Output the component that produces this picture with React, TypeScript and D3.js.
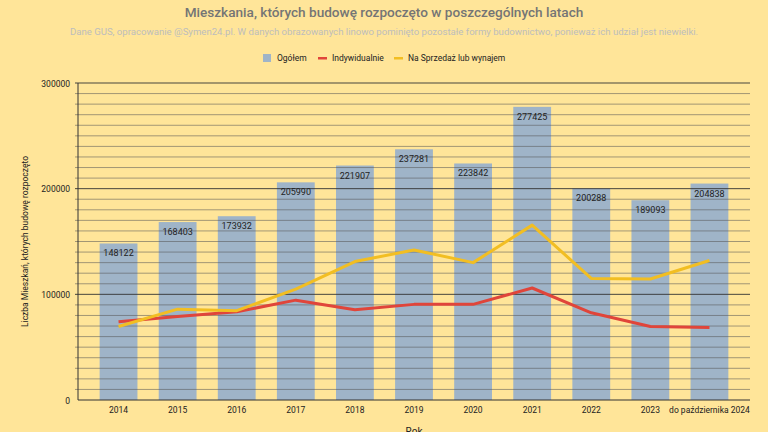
import React from "react";
import * as d3 from "d3";

const categories = ["2014", "2015", "2016", "2017", "2018", "2019", "2020", "2021", "2022", "2023", "do października 2024"];
const ogolem = [148122, 168403, 173932, 205990, 221907, 237281, 223842, 277425, 200288, 189093, 204838];
const indywidualne = [74000, 79000, 83500, 94500, 85500, 90500, 90500, 106000, 82500, 69500, 68500];
const naSprzedaz = [69500, 86000, 84500, 105000, 131000, 142000, 130000, 165500, 115000, 114500, 132000];
const yTicks = [0, 100000, 200000, 300000];

const W = 768, H = 432;
const L = 78, R = 750, T = 83, B = 400;
const FONT = "Roboto, 'Liberation Sans', Arial, sans-serif";

export default function App() {
  const x = d3.scaleBand<string>().domain(categories).range([L + 11, R - 11]).paddingInner(0.36).paddingOuter(0.18);
  const y = d3.scaleLinear().domain([0, 300000]).range([B, T]);
  const minor = d3.range(10000, 300000, 10000).filter((v) => v % 100000 !== 0);
  const cx = (c: string) => (x(c) as number) + x.bandwidth() / 2;
  const line = d3.line<number>().x((_, i) => cx(categories[i])).y((d) => y(d));

  return (
    <svg width={W} height={H} style={{ position: "absolute", left: 0, top: 0 }}>
      <rect width={W} height={H} fill="#FFE599" />
      <text x={384} y={17} textAnchor="middle" fontFamily={FONT} fontSize={13.6} fill="#757575" fontWeight={500}>
        Mieszkania, których budowę rozpoczęto w poszczególnych latach
      </text>
      <text x={384} y={35} textAnchor="middle" fontFamily={FONT} fontSize={9.6} fill="#BDBDBD">
        Dane GUS, opracowanie @Symen24.pl. W danych obrazowanych linowo pominięto pozostałe formy budownictwo, ponieważ ich udział jest niewielki.
      </text>
      {/* legend */}
      <g fontFamily={FONT} fontSize={8.5} fill="#222">
        <rect x={263} y={54} width={8} height={8} fill="#9FB4C8" />
        <text x={277} y={61}>Ogółem</text>
        <rect x={318} y={57} width={9} height={2.5} fill="#E0453A" />
        <text x={332} y={61}>Indywidualnie</text>
        <rect x={394} y={57} width={9} height={2.5} fill="#F2BE22" />
        <text x={408} y={61}>Na Sprzedaż lub wynajem</text>
      </g>
      {/* bars */}
      {ogolem.map((v, i) => (
        <rect key={i} x={x(categories[i])} y={y(v)} width={x.bandwidth()} height={B - y(v)} fill="#9FB4C8" />
      ))}
      {/* grid */}
      {minor.map((v) => (
        <line key={v} x1={L - 3} x2={R} y1={y(v)} y2={y(v)} stroke="#555" strokeOpacity={0.55} strokeWidth={1} />
      ))}
      {yTicks.filter((v) => v > 0).map((v) => (
        <line key={v} x1={L - 3} x2={R} y1={y(v)} y2={y(v)} stroke="#333" strokeOpacity={0.9} strokeWidth={1} />
      ))}
      <line x1={L} x2={L} y1={T} y2={B} stroke="#333" strokeWidth={1} />
      <line x1={L} x2={R} y1={B} y2={B} stroke="#333" strokeWidth={1} />
      {/* y tick labels */}
      {yTicks.map((v) => (
        <text key={v} x={L - 8} y={y(v) + 3.5} textAnchor="end" fontFamily={FONT} fontSize={8.5} fill="#222">{v}</text>
      ))}
      {/* x tick labels */}
      {categories.map((c) => (
        <text key={c} x={cx(c)} y={413} textAnchor="middle" fontFamily={FONT} fontSize={8.5} fill="#222">{c}</text>
      ))}
      {/* value labels */}
      {ogolem.map((v, i) => (
        <text key={i} x={cx(categories[i])} y={y(v) + 13} textAnchor="middle" fontFamily={FONT} fontSize={9} fill="#222">{v}</text>
      ))}
      {/* lines */}
      <path d={line(indywidualne) || ""} fill="none" stroke="#E0453A" strokeWidth={3} strokeLinejoin="round" />
      <path d={line(naSprzedaz) || ""} fill="none" stroke="#F2BE22" strokeWidth={3} strokeLinejoin="round" />
      {/* axis titles */}
      <text transform={`translate(28,${(T + B) / 2}) rotate(-90)`} textAnchor="middle" fontFamily={FONT} fontSize={8.5} fill="#222">
        Liczba Mieszkań, których budowę rozpoczęto
      </text>
      <text x={414} y={435} textAnchor="middle" fontFamily={FONT} fontSize={10} fill="#222">Rok</text>
    </svg>
  );
}
